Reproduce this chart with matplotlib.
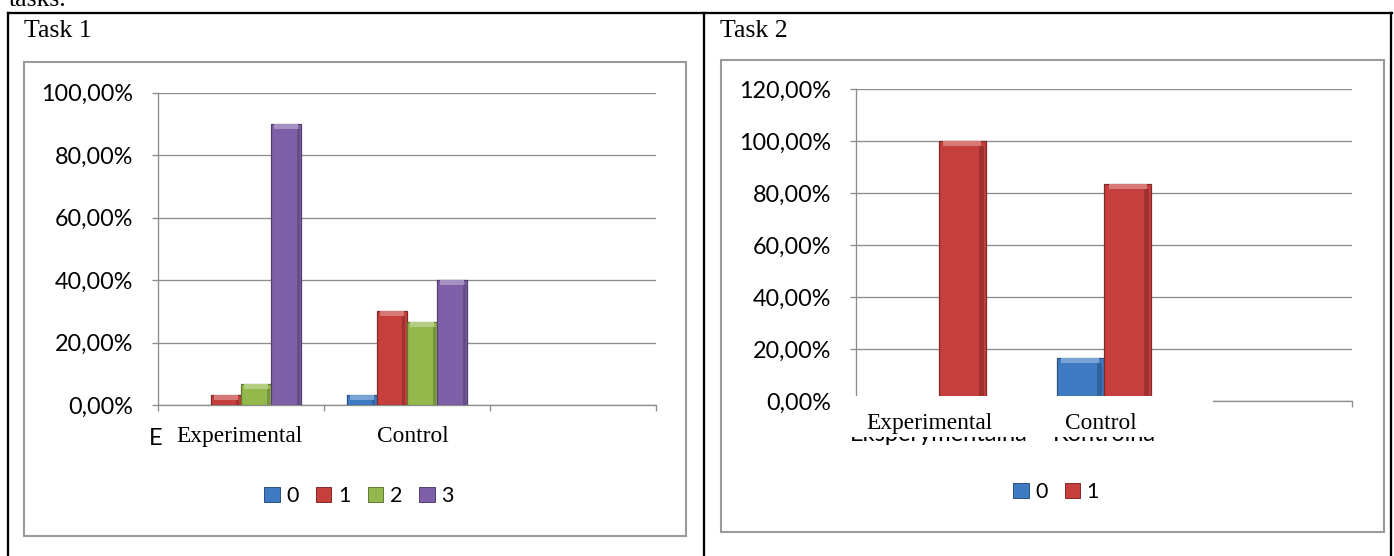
import numpy as np
import matplotlib
matplotlib.use('Agg')
import matplotlib.pyplot as plt
import matplotlib.colors as mcolors
from matplotlib.patches import Rectangle, Patch
from matplotlib.lines import Line2D

#### data ####
groups_en = ['Experimental', 'Control']
groups_pl = ['Eksperymentalna', 'Kontrolna']
task1_scores = ['0', '1', '2', '3']
task1_exp = [0.0, 3.33, 6.67, 90.0]
task1_ctl = [3.33, 30.0, 26.67, 40.0]
task2_scores = ['0', '1']
task2_exp = [0.0, 100.0]
task2_ctl = [16.67, 83.33]
task1_yticks = [0, 20, 40, 60, 80, 100]
task2_yticks = [0, 20, 40, 60, 80, 100, 120]

#### style ####
W, H = 1394, 556
bar_colors = ['#3f7bc3', '#c63f3d', '#93b94c', '#7f60a8']
grey = '#8c8c8c'
SANS = ['Lato', 'Liberation Sans', 'DejaVu Sans']
SERIF = 'Liberation Serif'

def fx(px):
   return px / W

def fy(py):
   return 1.0 - py / H

def shade(c, f):
   r, g, b = mcolors.to_rgb(c)
   if f < 1:
      return (r * f, g * f, b * f)
   return (r + (1 - r) * (f - 1), g + (1 - g) * (f - 1), b + (1 - b) * (f - 1))

def pct(v):
   return ('%.2f' % v).replace('.', ',') + '%'

def draw_task(ax, exp, ctl, scores, yticks, xlabels, label_pad):
   n = len(scores)
   width = 1.0 / (n + 1.5)            # excel gap width 150%
   ymax = yticks[-1]
   ax_h_px = ax.get_position().height * H
   cap = 5.0 * ymax / ax_h_px        # light bevel strip ~5px high
   for i in range(n):
      vals = np.array([exp[i], ctl[i]])
      pos = np.arange(2) + (i - (n - 1) / 2.0) * width
      keep = vals > 0
      ax.bar(pos[keep], vals[keep], width, color=bar_colors[i],
             edgecolor=shade(bar_colors[i], 0.65), linewidth=0.9, zorder=3)
      top = np.minimum(vals[keep], cap)
      ax.bar(pos[keep], top, width * 0.8, bottom=vals[keep] - top,
             color=shade(bar_colors[i], 1.3), linewidth=0, zorder=4)
      # darker right side, like the excel bevel
      ax.bar(pos[keep] + width * 0.4, vals[keep] - top, width * 0.1,
             color=shade(bar_colors[i], 0.8), linewidth=0, zorder=4)

   ax.set_xlim(-0.5, 2.5)
   ax.set_ylim(0, ymax)
   ax.set_yticks(yticks)
   ax.set_yticklabels([pct(v) for v in yticks], fontsize=16.8, family=SANS)
   ax.set_xticks([0, 1])
   ax.set_xticklabels(xlabels, fontsize=17, family=SANS)
   ax.set_xticks(np.arange(-0.5, 3.0, 1.0), minor=True)
   ax.tick_params(axis='x', which='major', length=0, pad=label_pad)
   ax.tick_params(axis='x', which='minor', length=4.3, width=0.95, color=grey)
   ax.tick_params(axis='y', length=4.3, width=0.95, color=grey, pad=13.7)
   ax.yaxis.grid(True, color=grey, linewidth=0.95)
   ax.set_axisbelow(True)
   for s in ['top', 'right']:
      ax.spines[s].set_visible(False)
   for s in ['left', 'bottom']:
      ax.spines[s].set_color(grey)
      ax.spines[s].set_linewidth(0.95)

def add_legend(ax, scores, cx, cy):
   handles = [Patch(facecolor=bar_colors[i], edgecolor=shade(bar_colors[i], 0.65), linewidth=0.7)
              for i in range(len(scores))]
   ax.legend(handles, scores, loc='center', bbox_to_anchor=(fx(cx), fy(cy)),
             bbox_transform=ax.figure.transFigure, ncol=len(scores), frameon=False,
             prop={'family': SANS, 'size': 15.5}, handlelength=0.72, handleheight=0.72,
             handletextpad=0.3, columnspacing=0.8, borderpad=0)

fig = plt.figure(figsize=(W / 100.0, H / 100.0), dpi=100)

# outer table lines
lw_tab = 1.65
fig.add_artist(Line2D([fx(8), fx(1392)], [fy(13), fy(13)], color='black', lw=lw_tab))
for xx in [8, 704, 1391]:
   fig.add_artist(Line2D([fx(xx), fx(xx)], [fy(13), fy(560)], color='black', lw=lw_tab))

fig.text(fx(9), fy(5.5), 'tasks.', family=SERIF, fontsize=18.5, va='baseline')
fig.text(fx(24), fy(37), 'Task 1', family=SERIF, fontsize=18.5, va='baseline')
fig.text(fx(720), fy(37), 'Task 2', family=SERIF, fontsize=18.5, va='baseline')

# chart frames
fig.add_artist(Rectangle((fx(24), fy(536)), fx(686) - fx(24), fy(62) - fy(536),
                         fill=False, edgecolor='#9a9a9a', lw=1.5))
fig.add_artist(Rectangle((fx(721), fy(532)), fx(1384) - fx(721), fy(60) - fy(532),
                         fill=False, edgecolor='#9a9a9a', lw=1.5))

# task 1 chart (original polish labels are pasted over, only the first letter peeks out)
ax1 = fig.add_axes([fx(158), fy(405), fx(656) - fx(158), fy(92.5) - fy(405)])
draw_task(ax1, task1_exp, task1_ctl, task1_scores, task1_yticks, ['', ''], 15.8)
add_legend(ax1, task1_scores, 359, 496)
fig.text(fx(149), fy(445), groups_pl[0][0], family=SANS, fontsize=17, va='baseline')

# task 2 chart
ax2 = fig.add_axes([fx(856), fy(401), fx(1352) - fx(856), fy(89) - fy(401)])
draw_task(ax2, task2_exp, task2_ctl, task2_scores, task2_yticks, groups_pl, 16.5)
add_legend(ax2, task2_scores, 1056, 492)

# pasted-over english labels
fig.add_artist(Rectangle((fx(838), fy(437)), fx(1213) - fx(838), fy(396) - fy(437),
                         facecolor='white', edgecolor='none', zorder=5))
fig.text(fx(239), fy(442), groups_en[0], family=SERIF, fontsize=16.8, ha='center', va='baseline', zorder=6)
fig.text(fx(413), fy(442), groups_en[1], family=SERIF, fontsize=16.8, ha='center', va='baseline', zorder=6)
fig.text(fx(929), fy(429), groups_en[0], family=SERIF, fontsize=16.8, ha='center', va='baseline', zorder=6)
fig.text(fx(1101), fy(429), groups_en[1], family=SERIF, fontsize=16.8, ha='center', va='baseline', zorder=6)

fig.savefig('out.png', dpi=100)
